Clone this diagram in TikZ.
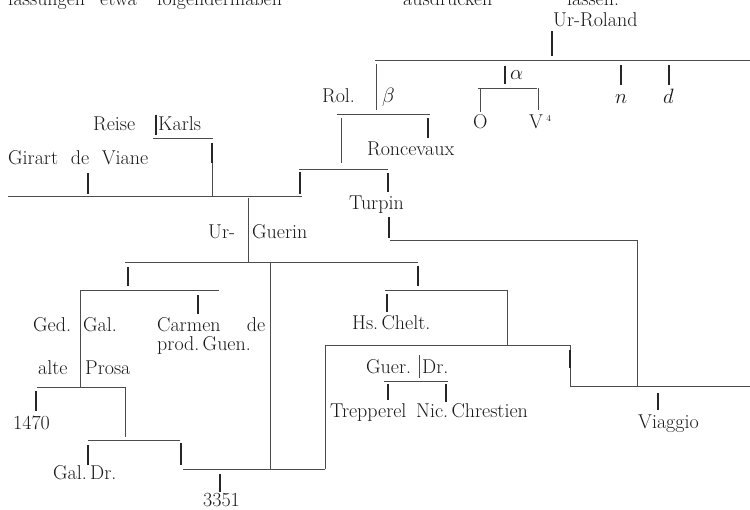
\documentclass[tikz,border=0pt]{standalone}
\begin{document}
\begin{tikzpicture}[x=1pt,y=-1pt,
  txt/.style={inner sep=0pt, anchor=base west, text=black!90, font=\fontsize{20}{24}\selectfont},
  thinl/.style={line width=0.7pt, draw=black!70},
  tick/.style={line width=1.5pt, draw=black!85}]
\useasboundingbox (0,0) rectangle (750,510);
\clip (0,0) rectangle (750,510);
\fill[white] (0,0) rectangle (750,510);
% ---------------- cut-off line of running text at the top ----------------
\node[txt] (hw1) at (8,6) {fassungen};
\node[txt] (hw2) at (100,6) {etwa};
\node[txt] (hw3) at (157,6) {folgendermaßen};
\node[txt] (hw4) at (403,6) {ausdrücken};
\node[txt] (hw5) at (567,6) {lassen:};
% ---------------- texts ----------------
\node[txt] (urroland) at (553,27) {Ur-Roland};
\node[txt] (rol) at (322,103) {Rol.};
\node[txt] (beta) at (382,103) {$\beta$};
\node[txt] (alpha) at (510,80) {$\alpha$};
\node[txt] (nn) at (615,104) {$n$};
\node[txt] (dd) at (663,104) {$d$};
\node[txt] (oo) at (473,129) {O};
\node[txt] (vv) at (529,129) {V\,\raisebox{7pt}{\fontsize{9}{9}\selectfont 4}};
\node[txt] (reise) at (93,131) {Reise};
\node[txt] (karls) at (158,131) {Karls};
\node[txt] (ronc) at (367,156) {Roncevaux};
\node[txt] (girart) at (8,165) {\makebox[140pt][s]{Girart de Viane}};
\node[txt] (turpin) at (349,210) {Turpin};
\node[txt] (ur) at (208,239) {Ur-};
\node[txt] (guerin) at (252,239) {Guerin};
\node[txt] (ged) at (33,332) {Ged.};
\node[txt] (gal) at (83,332) {Gal.};
\node[txt] (carmen) at (157,332) {\makebox[108pt][s]{Carmen de}};
\node[txt] (prod) at (157,351) {prod.\,Guen.};
\node[txt] (hs) at (352,330) {Hs.\,Chelt.};
\node[txt] (guer) at (366,374) {Guer.};
\node[txt] (dr) at (422,374) {Dr.};
\node[txt] (alte) at (38,375) {alte};
\node[txt] (prosa) at (85,375) {Prosa};
\node[txt] (n1470) at (13,430) {1470};
\node[txt] (trep) at (330,418) {Trepperel};
\node[txt] (nic) at (416,418) {Nic.\,Chrestien};
\node[txt] (viaggio) at (638,429) {Viaggio};
\node[txt] (galdr) at (53,480) {Gal.\,Dr.};
\node[txt] (n3351) at (203,507) {3351};
% ---------------- horizontal connectors ----------------
\foreach \n/\y/\a/\b in {h1/60/375/750, h2/88/478/537, h3/114/337/430,
  h4/138/153/213, h5/169/299/388, h6/196/8/302, h7/240/390/637,
  h8/262/125/418, h9/290/80/219, h10/290/385/507, h11/345/325/570,
  h12/381/384/448, h13/386/570/750, h14/387/37/125, h15/440/88/180,
  h16/469/183/325}{
  \coordinate (\n-l) at (\a,\y); \coordinate (\n-r) at (\b,\y);
  \draw[thinl] (\n-l) -- (\n-r);
}
% ---------------- thin vertical connectors ----------------
\foreach \n/\x/\a/\b in {v376/376/64/110, v341/341/118/163, v248/248/198/262,
  v212/212/143/196, v419/419/355/378, vO/480/88/112, vV/538/88/110,
  v80/80/290/387, v125/125/387/437, v270/270/262/469, v637/637/240/386,
  v507/507/290/345, v325/325/345/469, v570/570/345/386}{
  \coordinate (\n-t) at (\x,\a); \coordinate (\n-b) at (\x,\b);
  \draw[thinl] (\n-t) -- (\n-b);
}
% ---------------- bold ticks ----------------
\foreach \n/\x/\a/\b in {t552/552/31/56, t505/505/66/84, t621/621/65/85,
  t669/669/65/85, t428/428/118/138, t156/156/115/135, t212/212/143/163,
  t88/88/173/194, t300/300/172/194, t388/388/173/192, t389/389/217/238,
  t658/658/393/410, t128/128/267/286, t418/418/266/286, t198/198/295/314,
  t387/387/294/312, t570/570/350/368, t388b/388/384/400, t446/446/384/402,
  t36/36/391/411, t88b/88/445/465, t181/181/443/465, t220/220/474/492}{
  \coordinate (\n-t) at (\x,\a); \coordinate (\n-b) at (\x,\b);
  \draw[tick] (\n-t) -- (\n-b);
}
\end{tikzpicture}
\end{document}
